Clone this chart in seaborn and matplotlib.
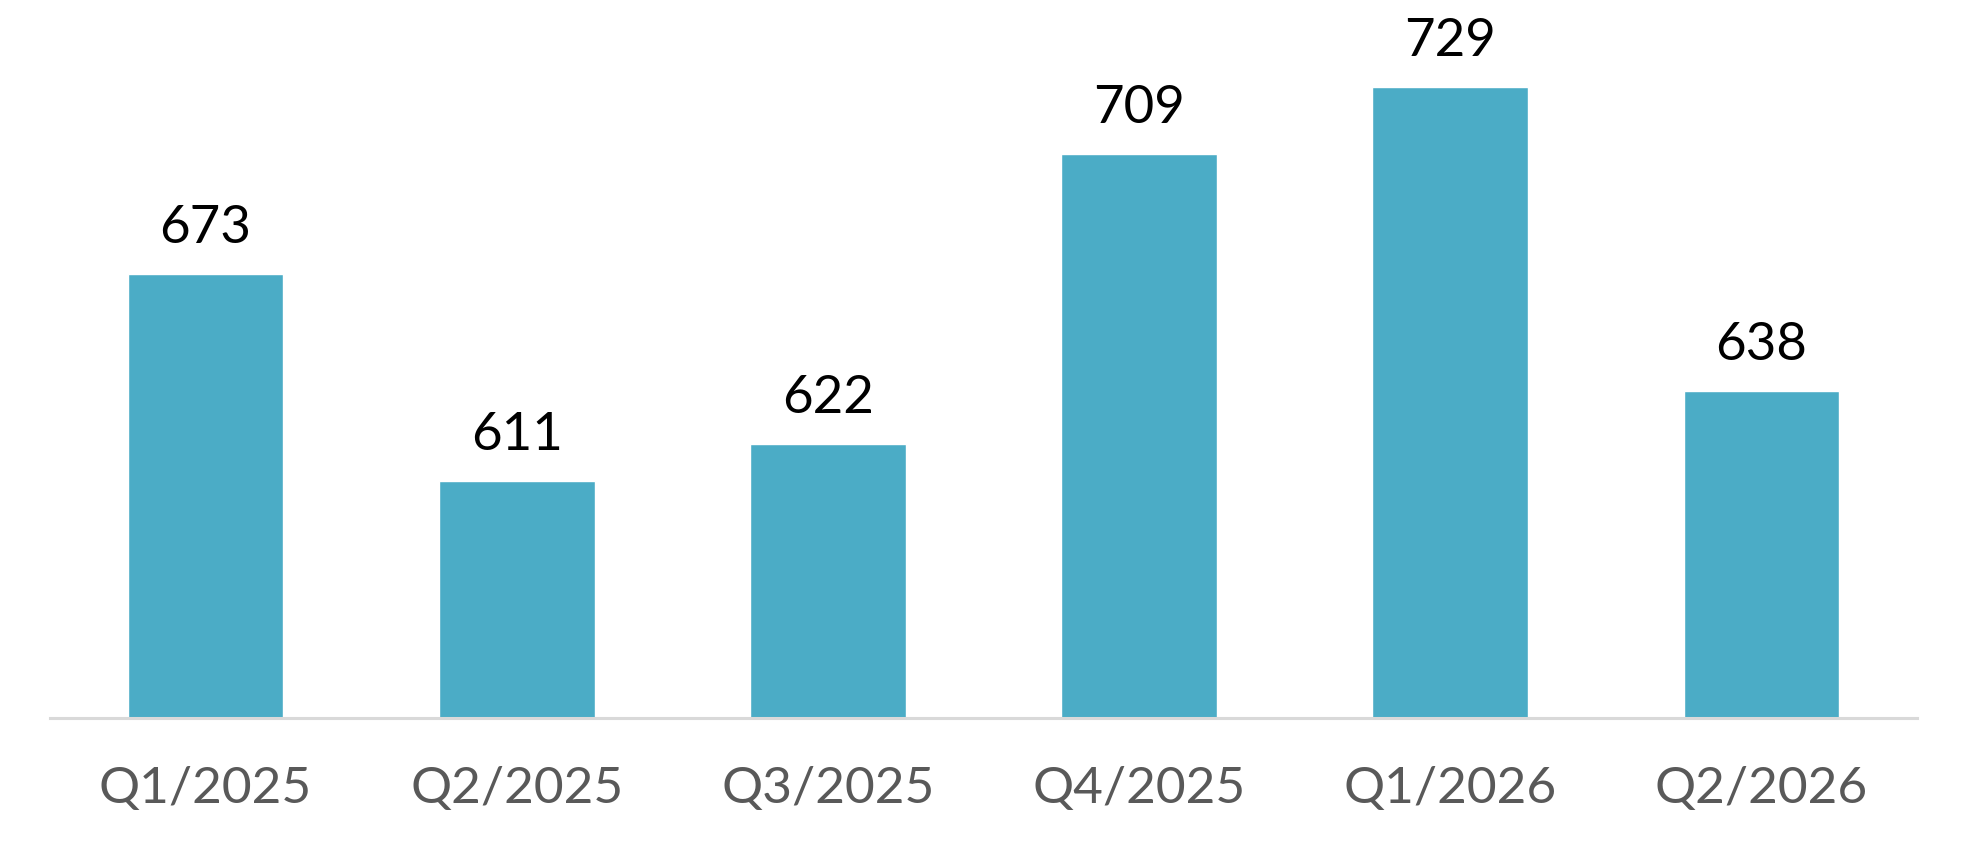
import matplotlib
matplotlib.use("Agg")
import matplotlib.pyplot as plt
import seaborn as sns
import pandas as pd

quarters = ["Q1/2025", "Q2/2025", "Q3/2025", "Q4/2025", "Q1/2026", "Q2/2026"]
counts = [673, 611, 622, 709, 729, 638]

df = pd.DataFrame({"quarter": quarters, "count": counts})

sns.set_style("white")
plt.rcParams["font.family"] = ["Lato", "DejaVu Sans"]

fig = plt.figure(figsize=(19.67, 8.53), dpi=100)
ax = fig.add_axes([50 / 1967, 134 / 853, 1867 / 1967, 719 / 853])

sns.barplot(data=df, x="quarter", y="count", color="#4BACC6", width=0.5,
            saturation=1, ax=ax)

ax.set_ylim(540, 755.5)
ax.set_xlim(-0.5, 5.5)

# value labels above each bar
for i, v in enumerate(counts):
    ax.annotate(str(v), xy=(i, v), xytext=(0, 23), textcoords="offset points",
                ha="center", va="baseline", fontsize=38, color="black")

ax.set_xlabel("")
ax.set_ylabel("")
ax.set_yticks([])
ax.tick_params(axis="x", length=0, pad=34, labelsize=37, labelcolor="#595959")
for side in ["top", "left", "right"]:
    ax.spines[side].set_visible(False)
ax.spines["bottom"].set_color("#d9d9d9")
ax.spines["bottom"].set_linewidth(2.2)

fig.savefig("out.png", dpi=100)
